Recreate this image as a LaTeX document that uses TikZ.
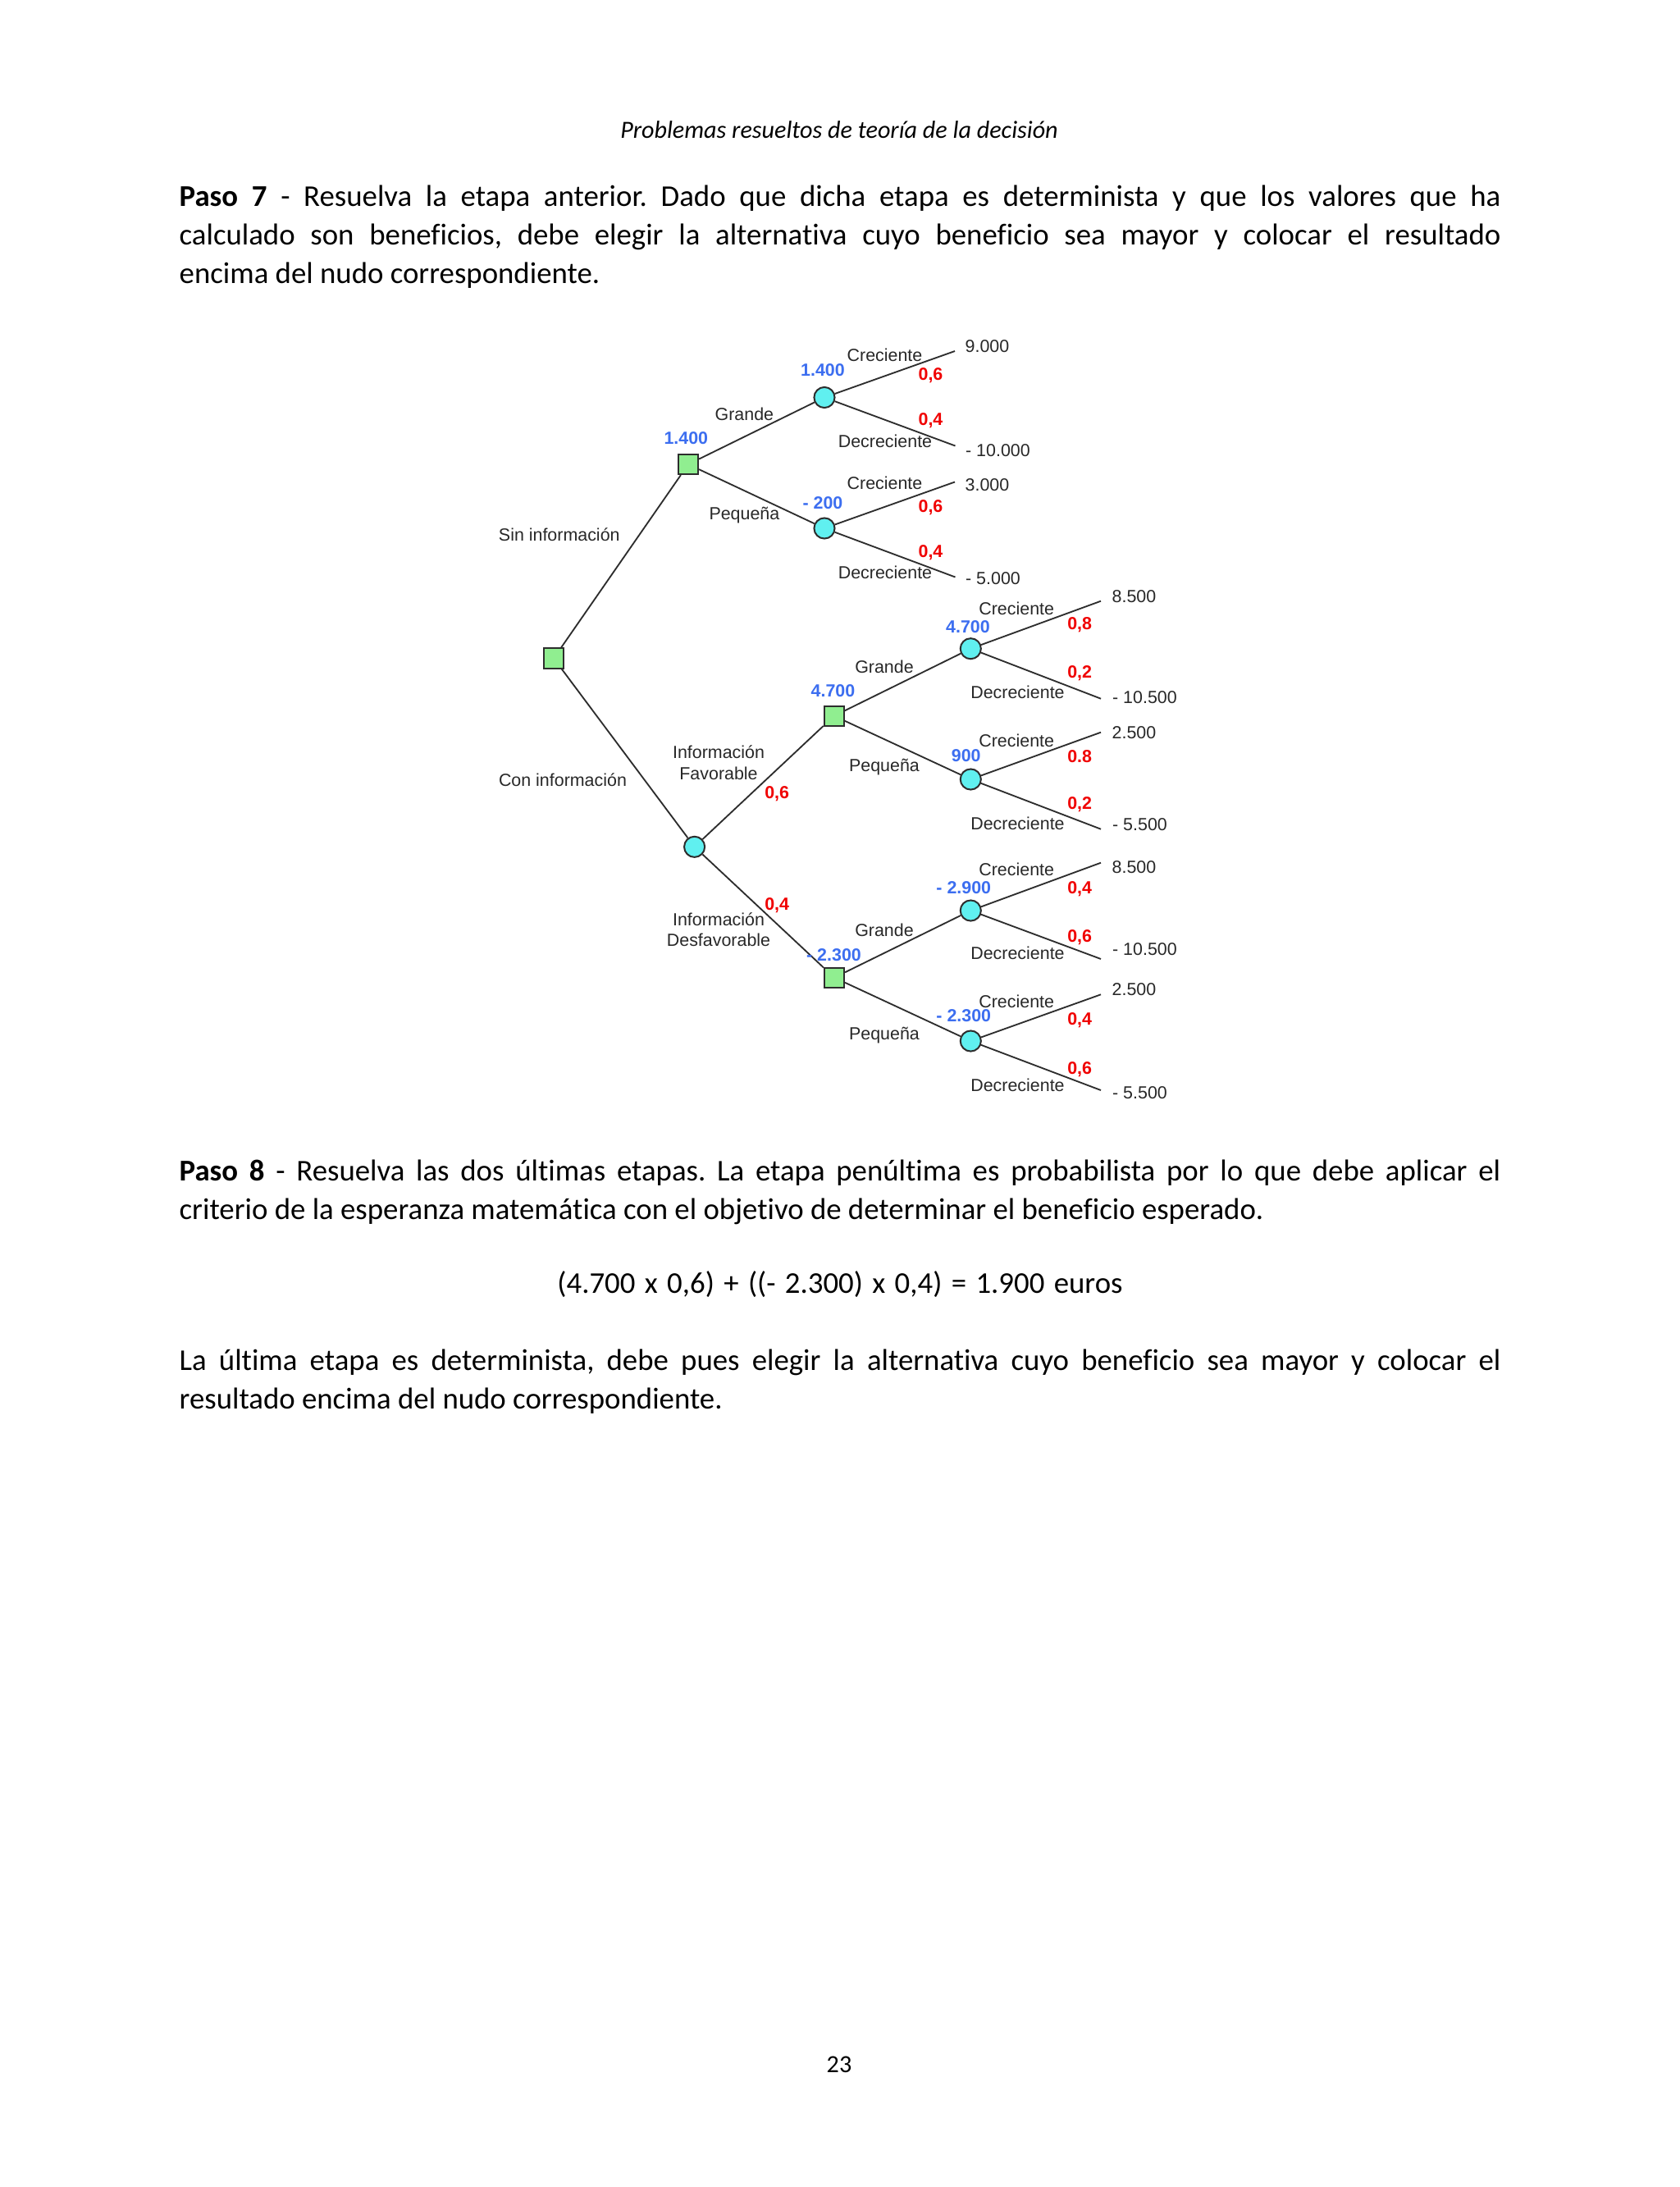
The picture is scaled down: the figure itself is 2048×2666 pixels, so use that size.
\documentclass[tikz,border=0pt]{standalone}
\usepackage{fontspec}
\setmainfont{Carlito}[RawFeature={-liga;-clig;-calt;-dlig;-rlig}]
\newfontfamily\arialf{Liberation Sans}
\definecolor{lgreen}{RGB}{144,238,144}
\definecolor{lcyan}{RGB}{96,240,240}
\definecolor{vblue}{RGB}{60,110,240}
\definecolor{pred}{RGB}{240,0,0}
\definecolor{edgec}{RGB}{45,45,45}
\definecolor{lblc}{RGB}{40,40,40}
\newcommand\tiSep{t\kern0pt i}
\frenchspacing
\begin{document}
\begin{tikzpicture}[x={(0.2988pt,0pt)},y={(0pt,-0.2988pt)},
  dec/.style={rectangle,draw=edgec,fill=lgreen,minimum size=7.2pt,inner sep=0pt,line width=0.6pt},
  chance/.style={circle,draw=edgec,fill=lcyan,minimum size=7.5pt,inner sep=0pt,line width=0.6pt},
  br/.style={draw=edgec,line width=0.55pt},
  lbl/.style={font=\arialf\fontsize{6.4}{7.6}\selectfont,text=lblc,inner sep=0pt,align=center},
  val/.style={font=\arialf\bfseries\fontsize{6.4}{7.6}\selectfont,text=vblue,inner sep=0pt},
  prob/.style={font=\arialf\bfseries\fontsize{6.4}{7.6}\selectfont,text=pred,inner sep=0pt},
  term/.style={lbl,anchor=west},
  para/.style={anchor=base west,inner sep=0pt,font=\fontsize{11}{14.04}\selectfont}
]
\useasboundingbox (0,0) rectangle (2048,2666);
\fill[white] (0,0) rectangle (2048,2666);

% header and page number
\node[anchor=base,inner sep=0pt,font=\itshape\fontsize{9}{11}\selectfont] (hdr) at (1023,168.3) {Problemas resueltos de teoría de la decisión};
\node[anchor=base,inner sep=0pt,font=\fontsize{9}{11}\selectfont] (pg) at (1023,2526) {23};

% paragraph Paso 7
\node[para] (p7) at (218,251.7) {\begin{minipage}[t]{481.3pt}\parindent=0pt
\textbf{Paso 7} - Resuelva la etapa anterior. Dado que dicha etapa es determinista y que los valores que ha\linebreak
calculado son beneficios, debe elegir la alterna\tiSep va cuyo beneficio sea mayor y colocar el resultado\linebreak
encima del nudo correspondiente.\end{minipage}};

% paragraph Paso 8
\node[para] (p8) at (218,1439.3) {\begin{minipage}[t]{481.3pt}\parindent=0pt
\textbf{Paso 8} - Resuelva las dos úl\tiSep mas etapas. La etapa penúl\tiSep ma es probabilista por lo que debe aplicar el\linebreak
criterio de la esperanza matemá\tiSep ca con el obje\tiSep vo de determinar el beneficio esperado.\end{minipage}};

\node[anchor=base,inner sep=0pt,font=\fontsize{11}{14}\selectfont] (form) at (1024,1576.7) {\spaceskip=3.4pt plus 1pt(4.700 x 0,6) + ((- 2.300) x 0,4) = 1.900 euros};

\node[para] (p9) at (218,1670.7) {\begin{minipage}[t]{481.3pt}\parindent=0pt
La úl\tiSep ma etapa es determinista, debe pues elegir la alterna\tiSep va cuyo beneficio sea mayor y colocar el\linebreak
resultado encima del nudo correspondiente.\end{minipage}};

% ---------- decision tree ----------
\node[dec] (R) at (675,802.5) {};
\node[dec] (D1) at (839,566) {};
\node[chance] (C1) at (1005,484.5) {};
\node[chance] (C2) at (1005,644) {};
\node[chance] (C3) at (846.6,1032.3) {};
\node[dec] (D2) at (1016.8,872.7) {};
\node[chance] (C4) at (1183.3,790.7) {};
\node[chance] (C5) at (1183.3,950) {};
\node[dec] (D3) at (1017,1191.7) {};
\node[chance] (C6) at (1183.3,1110) {};
\node[chance] (C7) at (1183.3,1269) {};

\coordinate (E1) at (1164,428);
\coordinate (E2) at (1164.5,543.5);
\coordinate (E3) at (1164,587.5);
\coordinate (E4) at (1164.5,703.5);
\coordinate (E5) at (1342,732.7);
\coordinate (E6) at (1342,851.7);
\coordinate (E7) at (1342,892.7);
\coordinate (E8) at (1342,1010.7);
\coordinate (E9) at (1342,1051.7);
\coordinate (E10) at (1342,1169);
\coordinate (E11) at (1342,1212.3);
\coordinate (E12) at (1342,1329);

\draw[br] (R) -- (D1);
\draw[br] (R) -- (C3);
\draw[br] (D1) -- (C1);
\draw[br] (D1) -- (C2);
\draw[br] (C1) -- (E1);
\draw[br] (C1) -- (E2);
\draw[br] (C2) -- (E3);
\draw[br] (C2) -- (E4);
\draw[br] (C3) -- (D2);
\draw[br] (C3) -- (D3);
\draw[br] (D2) -- (C4);
\draw[br] (D2) -- (C5);
\draw[br] (C4) -- (E5);
\draw[br] (C4) -- (E6);
\draw[br] (C5) -- (E7);
\draw[br] (C5) -- (E8);
\draw[br] (D3) -- (C6);
\draw[br] (D3) -- (C7);
\draw[br] (C6) -- (E9);
\draw[br] (C6) -- (E10);
\draw[br] (C7) -- (E11);
\draw[br] (C7) -- (E12);

% labels upper part
\node[lbl] (l1) at (681.8,651.5) {Sin información};
\node[lbl] (l2) at (686,951) {Con información};
\node[val] (v1) at (836.3,534.5) {1.400};
\node[lbl] (l3) at (907.4,505) {Grande};
\node[lbl] (l4) at (907.4,627.8) {Pequeña};
\node[val] (v2) at (1003,451.5) {1.400};
\node[lbl] (l5) at (1078.5,432.5) {Creciente};
\node[prob] (q1) at (1134.5,457.3) {0,6};
\node[prob] (q2) at (1134.5,512.7) {0,4};
\node[lbl] (l6) at (1079,537.5) {Decreciente};
\node[term] (t1) at (1176,422.5) {9.000};
\node[term] (t2) at (1176.5,549) {- 10.000};
\node[lbl] (l7) at (1078.5,589) {Creciente};
\node[val] (v3) at (1003,612.7) {- 200};
\node[prob] (q3) at (1134.5,618.3) {0,6};
\node[prob] (q4) at (1134.5,673.3) {0,4};
\node[lbl] (l8) at (1079,698.3) {Decreciente};
\node[term] (t3) at (1176,591) {3.000};
\node[term] (t4) at (1176.5,705) {- 5.000};

% labels favourable branch
\node[lbl] (l9) at (876,929.5) {Información\\Favorable};
\node[prob] (q5) at (947.2,967.5) {0,6};
\node[val] (v4) at (1015.5,842) {4.700};
\node[lbl] (l10) at (1078,813) {Grande};
\node[lbl] (l11) at (1078,935.3) {Pequeña};
\node[val] (v5) at (1180,764) {4.700};
\node[lbl] (l12) at (1239.2,742) {Creciente};
\node[prob] (q6) at (1316.2,761.7) {0,8};
\node[prob] (q7) at (1316.2,820.7) {0,2};
\node[lbl] (l13) at (1240.5,844.3) {Decreciente};
\node[term] (t5) at (1355,727.4) {8.500};
\node[term] (t6) at (1355.5,850) {- 10.500};
\node[val] (v6) at (1177.7,921.1) {900};
\node[lbl] (l14) at (1239.2,903.3) {Creciente};
\node[prob] (q8) at (1316.2,921.7) {0.8};
\node[prob] (q9) at (1316.2,981) {0,2};
\node[lbl] (l15) at (1240.5,1004) {Decreciente};
\node[term] (t7) at (1355,892.7) {2.500};
\node[term] (t8) at (1355.5,1005) {- 5.500};

% labels unfavourable branch
\node[lbl] (l16) at (876,1133) {Información\\Desfavorable};
\node[prob] (q10) at (947.2,1103.2) {0,4};
\node[val] (v7) at (1016.5,1164.2) {- 2.300};
\node[lbl] (l17) at (1078,1134.3) {Grande};
\node[lbl] (l18) at (1078,1261.7) {Pequeña};
\node[val] (v8) at (1174.8,1082.3) {- 2.900};
\node[lbl] (l19) at (1239.2,1060) {Creciente};
\node[prob] (q11) at (1316.2,1083.3) {0,4};
\node[prob] (q12) at (1316.2,1142.3) {0,6};
\node[lbl] (l20) at (1240.5,1161.7) {Decreciente};
\node[term] (t9) at (1355,1056.7) {8.500};
\node[term] (t10) at (1355.5,1157.3) {- 10.500};
\node[val] (v9) at (1174.8,1238.3) {- 2.300};
\node[lbl] (l21) at (1239.2,1220.7) {Creciente};
\node[prob] (q13) at (1316.2,1243.3) {0,4};
\node[prob] (q14) at (1316.2,1303.3) {0,6};
\node[lbl] (l22) at (1240.5,1322.7) {Decreciente};
\node[term] (t11) at (1355,1205.7) {2.500};
\node[term] (t12) at (1355.5,1331.7) {- 5.500};
\end{tikzpicture}
\end{document}
